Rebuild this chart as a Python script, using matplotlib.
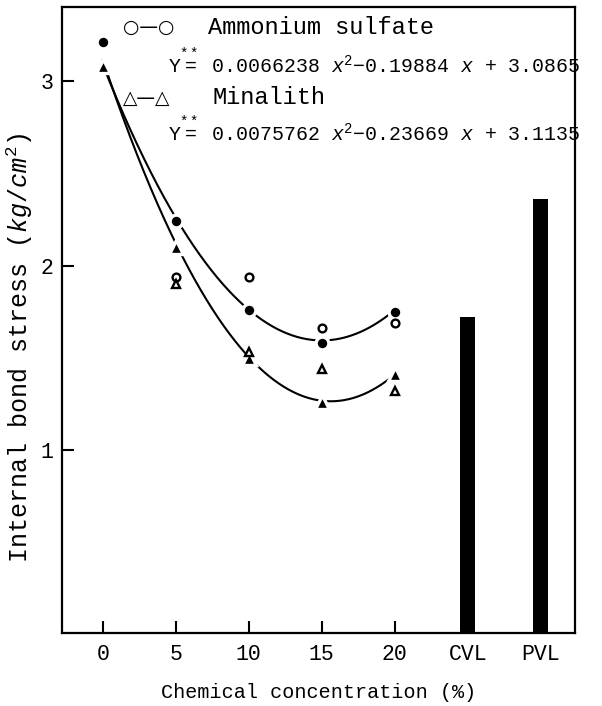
import numpy as np
import matplotlib
matplotlib.use("Agg")
import matplotlib.pyplot as plt

plt.rcParams['font.family'] = ['Liberation Mono', 'DejaVu Sans Mono']
plt.rcParams['mathtext.fontset'] = 'custom'
plt.rcParams['mathtext.rm'] = 'Liberation Mono'
plt.rcParams['mathtext.it'] = 'Liberation Mono:italic'

# ---- data ----
conc = [0, 5, 10, 15, 20]
amm_filled = [3.21, 2.24, 1.76, 1.58, 1.75]
min_filled = [3.08, 2.10, 1.50, 1.26, 1.41]
conc_open = [5, 10, 15, 20]
amm_open = [1.94, 1.94, 1.66, 1.69]
min_open = [1.90, 1.53, 1.44, 1.32]
amm_coef = [0.0066238, -0.19884, 3.0865]
min_coef = [0.0075762, -0.23669, 3.1135]
bar_pos = [25, 30]
bar_labels = ['CVL', 'PVL']
bar_vals = [1.72, 2.36]
tick_pos = [0, 5, 10, 15, 20, 25, 30]
tick_labels = ['0', '5', '10', '15', '20', 'CVL', 'PVL']

fig = plt.figure(figsize=(6.02, 7.06), dpi=100)
ax = fig.add_axes([62 / 602, 1 - 633 / 706, 513 / 602, 626 / 706])

cx = np.linspace(0, 20, 300)
ax.plot(cx, np.polyval(amm_coef, cx), color='black', lw=1.5, zorder=2)
ax.plot(cx, np.polyval(min_coef, cx), color='black', lw=1.5, zorder=2)

ax.plot(conc, amm_filled, 'o', ms=9.2, mfc='black', mec='white', mew=2.4, zorder=4)
ax.plot(conc, min_filled, '^', ms=10.0, mfc='black', mec='white', mew=2.4, zorder=4)
ax.plot(conc_open, amm_open, 'o', ms=5.6, mfc='white', mec='black', mew=1.7, zorder=5)
ax.plot(conc_open, min_open, '^', ms=6.4, mfc='white', mec='black', mew=1.7, zorder=5)

ax.bar(bar_pos, bar_vals, width=1.0, color='black', zorder=2)

ax.set_xlim(-2.8, 32.35)
ax.set_ylim(0.01, 3.4)
ax.set_xticks(tick_pos)
ax.set_xticklabels(tick_labels)
ax.set_yticks([1, 2, 3])
ax.tick_params(direction='in', length=8.5, width=1.5, labelsize=15.5)
ax.tick_params(axis='x', pad=8)
ax.tick_params(axis='y', pad=6)
for s in ax.spines.values():
    s.set_linewidth(1.6)

ax.set_xlabel('Chemical concentration (%)', fontsize=14.5, va='center')
ax.set_ylabel(r'Internal bond stress $(kg/cm^2)$', fontsize=18, va='center')
ax.xaxis.set_label_coords(0.5, (633 - 692) / 626)
ax.yaxis.set_label_coords((20 - 62) / 513, (633 - 348) / 626)

# legend-like annotations (pixel positions from top-left)
sym_items = [
    (123, 27, '○—○'),
    (123, 98, '△—△'),
]
for px, py, s in sym_items:
    fig.text(px / 602, 1 - py / 706, s, fontsize=13.5, va='center', ha='left',
             family=['DejaVu Sans'])

txt_items = [
    (208, 27, 'Ammonium sulfate', 17),
    (168, 62, r'Y$\overset{**}{=}$ 0.0066238 $x^2$−0.19884 $x$ + 3.0865', 14.3),
    (213, 98, 'Minalith', 17),
    (168, 130, r'Y$\overset{**}{=}$ 0.0075762 $x^2$−0.23669 $x$ + 3.1135', 14.3),
]
for px, py, s, fs in txt_items:
    fig.text(px / 602, 1 - py / 706, s, fontsize=fs, va='center', ha='left',
             family=['Liberation Mono', 'DejaVu Sans'])

fig.savefig('out.png', dpi=100)
